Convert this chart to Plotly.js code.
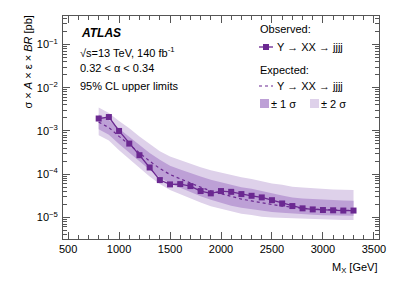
<!DOCTYPE html>
<html><head><meta charset="utf-8">
<script src="https://cdn.plot.ly/plotly-3.0.1.min.js"></script>
<style>html,body{margin:0;padding:0;background:#fff}#g{width:399px;height:286px}</style>
</head><body><div id="g"></div>
<script>
const mass = [800,900,1000,1100,1200,1300,1400,1500,1600,1700,1800,1900,2000,2100,2200,2300,2400,2500,2600,2700,2800,2900,3000,3100,3200,3300];
const observed = [1.94e-3,2.1e-3,1.0e-3,5.1e-4,2.75e-4,1.43e-4,7.3e-5,5.8e-5,5.9e-5,5.3e-5,4.07e-5,3.6e-5,4.07e-5,3.9e-5,3.46e-5,3.16e-5,2.9e-5,2.5e-5,2.1e-5,1.83e-5,1.62e-5,1.53e-5,1.48e-5,1.46e-5,1.44e-5,1.44e-5];
const expected = [1.6e-3,1.2e-3,7.5e-4,4.8e-4,3.1e-4,2.0e-4,1.35e-4,9.8e-5,7.8e-5,6.2e-5,5.0e-5,4.1e-5,3.5e-5,3.0e-5,2.65e-5,2.4e-5,2.15e-5,1.98e-5,1.83e-5,1.7e-5,1.62e-5,1.56e-5,1.51e-5,1.48e-5,1.46e-5,1.44e-5];
const up2 = [3.5e-3,2.6e-3,1.7e-3,1.15e-3,7.4e-4,5.0e-4,3.4e-4,2.55e-4,2.1e-4,1.74e-4,1.45e-4,1.23e-4,1.08e-4,9.6e-5,8.5e-5,7.7e-5,6.9e-5,6.1e-5,5.7e-5,5.1e-5,4.9e-5,4.7e-5,4.5e-5,4.4e-5,4.35e-5,4.3e-5];
const up1 = [2.4e-3,1.8e-3,1.13e-3,7.4e-4,4.8e-4,3.1e-4,2.16e-4,1.57e-4,1.29e-4,1.05e-4,8.8e-5,7.4e-5,6.5e-5,5.7e-5,5.0e-5,4.6e-5,4.0e-5,3.6e-5,3.2e-5,2.9e-5,2.75e-5,2.65e-5,2.55e-5,2.5e-5,2.45e-5,2.43e-5];
const dn1 = [1.09e-3,8.2e-4,5.0e-4,3.1e-4,2.0e-4,1.26e-4,8.4e-5,6.1e-5,4.8e-5,3.85e-5,3.1e-5,2.55e-5,2.17e-5,1.86e-5,1.67e-5,1.54e-5,1.4e-5,1.33e-5,1.28e-5,1.22e-5,1.18e-5,1.15e-5,1.12e-5,1.1e-5,1.09e-5,1.09e-5];
const dn2 = [8.0e-4,6.0e-4,3.6e-4,2.2e-4,1.4e-4,8.8e-5,5.9e-5,4.3e-5,3.4e-5,2.7e-5,2.2e-5,1.8e-5,1.58e-5,1.35e-5,1.22e-5,1.13e-5,1.03e-5,9.9e-6,9.7e-6,9.4e-6,9.2e-6,9.0e-6,8.9e-6,8.8e-6,8.7e-6,8.7e-6];
const yTickVals = [1e-5,1e-4,1e-3,1e-2,1e-1];
const yTickText = ['10<sup>−5</sup>','10<sup>−4</sup>','10<sup>−3</sup>','10<sup>−2</sup>','10<sup>−1</sup>'];

const PURPLE = 'rgb(107,40,145)';
const C1 = 'rgb(189,160,214)';
const C2 = 'rgb(222,209,234)';
const FONT = 'Liberation Sans, Arial, Helvetica, sans-serif';

const traces = [
  {x: mass, y: dn2, mode:'lines', line:{width:0}, hoverinfo:'skip', showlegend:false},
  {x: mass, y: up2, mode:'lines', line:{width:0}, fill:'tonexty', fillcolor:C2, showlegend:false},
  {x: mass, y: dn1, mode:'lines', line:{width:0}, showlegend:false},
  {x: mass, y: up1, mode:'lines', line:{width:0}, fill:'tonexty', fillcolor:C1, showlegend:false},
  {x: mass, y: expected, mode:'lines', line:{color:PURPLE, width:1.2, dash:'dot'}, showlegend:false},
  {x: mass, y: observed, mode:'lines+markers', line:{color:PURPLE, width:1.3}, marker:{symbol:'square', size:6, color:PURPLE}, showlegend:false}
];

const ax = {
  showline:true, linecolor:'#555', linewidth:1, mirror:'allticks',
  ticks:'inside', ticklen:7, tickcolor:'#555', showgrid:false, zeroline:false,
  tickfont:{family:FONT, size:11, color:'#000'}
};

// plot area in pixels: left 63, right 379, top 16, bottom 239
const L = 63, R = 379, T = 16, B = 239;
function px(x){return (x - L)/(R - L);}
function py(y){return (B - y)/(B - T);}

const layout = {
  width:399, height:286,
  margin:{l:L, r:399-R, t:T, b:286-B},
  paper_bgcolor:'#fff', plot_bgcolor:'#fff',
  font:{family:FONT, size:11, color:'#000'},
  showlegend:false,
  xaxis: Object.assign({}, ax, {range:[450,3550], dtick:500, tick0:500,
    minor:{ticks:'inside', ticklen:4, dtick:100, tickcolor:'#555', showgrid:false}}),
  yaxis: Object.assign({}, ax, {type:'log', range:[-5.5,-0.34],
    tickmode:'array', tickvals:yTickVals, ticktext:yTickText,
    tickfont:{family:FONT, size:11, color:'#000'}, ticklabelstandoff:2,
    minor:{ticks:'inside', ticklen:4, dtick:'D1', tickcolor:'#555', showgrid:false}}),
  shapes: [
    {type:'line', xref:'paper', yref:'paper', x0:px(259), x1:px(273), y0:py(47), y1:py(47), line:{color:PURPLE, width:1.3}},
    {type:'rect', xref:'paper', yref:'paper', x0:px(263), x1:px(269), y0:py(44), y1:py(50), fillcolor:PURPLE, line:{width:0}},
    {type:'line', xref:'paper', yref:'paper', x0:px(259), x1:px(273), y0:py(86), y1:py(86), line:{color:PURPLE, width:1.2, dash:'dot'}},
    {type:'rect', xref:'paper', yref:'paper', x0:px(260), x1:px(269), y0:py(99), y1:py(108), fillcolor:C1, line:{width:0}},
    {type:'rect', xref:'paper', yref:'paper', x0:px(310), x1:px(319), y0:py(99), y1:py(108), fillcolor:C2, line:{width:0}}
  ],
  annotations: [
    {xref:'paper', yref:'paper', x:px(79), y:py(33), xanchor:'left', yanchor:'middle', showarrow:false, text:'<b><i>ATLAS</i></b>', font:{size:12}},
    {xref:'paper', yref:'paper', x:px(78), y:py(52), xanchor:'left', yanchor:'middle', showarrow:false, text:'√s=13 TeV, 140 fb<sup>-1</sup>', font:{size:11}},
    {xref:'paper', yref:'paper', x:px(78), y:py(68), xanchor:'left', yanchor:'middle', showarrow:false, text:'0.32 < α < 0.34', font:{size:11}},
    {xref:'paper', yref:'paper', x:px(78), y:py(86), xanchor:'left', yanchor:'middle', showarrow:false, text:'95% CL upper limits', font:{size:11}},
    {xref:'paper', yref:'paper', x:px(258), y:py(29), xanchor:'left', yanchor:'middle', showarrow:false, text:'Observed:', font:{size:11}},
    {xref:'paper', yref:'paper', x:px(275), y:py(47), xanchor:'left', yanchor:'middle', showarrow:false, text:'Y → XX → jjjj', font:{size:11}},
    {xref:'paper', yref:'paper', x:px(258), y:py(70), xanchor:'left', yanchor:'middle', showarrow:false, text:'Expected:', font:{size:11}},
    {xref:'paper', yref:'paper', x:px(275), y:py(86), xanchor:'left', yanchor:'middle', showarrow:false, text:'Y → XX → jjjj', font:{size:11}},
    {xref:'paper', yref:'paper', x:px(269), y:py(104), xanchor:'left', yanchor:'middle', showarrow:false, text:'± 1 σ', font:{size:11}},
    {xref:'paper', yref:'paper', x:px(319), y:py(104), xanchor:'left', yanchor:'middle', showarrow:false, text:'± 2 σ', font:{size:11}},
    {xref:'paper', yref:'paper', x:px(380), y:py(268), xanchor:'right', yanchor:'middle', showarrow:false, text:'M<sub>X</sub> [GeV]', font:{size:11}},
    {xref:'paper', yref:'paper', x:px(28), y:py(14), xanchor:'center', yanchor:'top', textangle:-90, showarrow:false, text:'σ × <i>A</i> × ε × <i>BR</i> [pb]', font:{size:11}}
  ]
};

Plotly.newPlot('g', traces, layout, {displayModeBar:false, staticPlot:true});
</script>
</body></html>
